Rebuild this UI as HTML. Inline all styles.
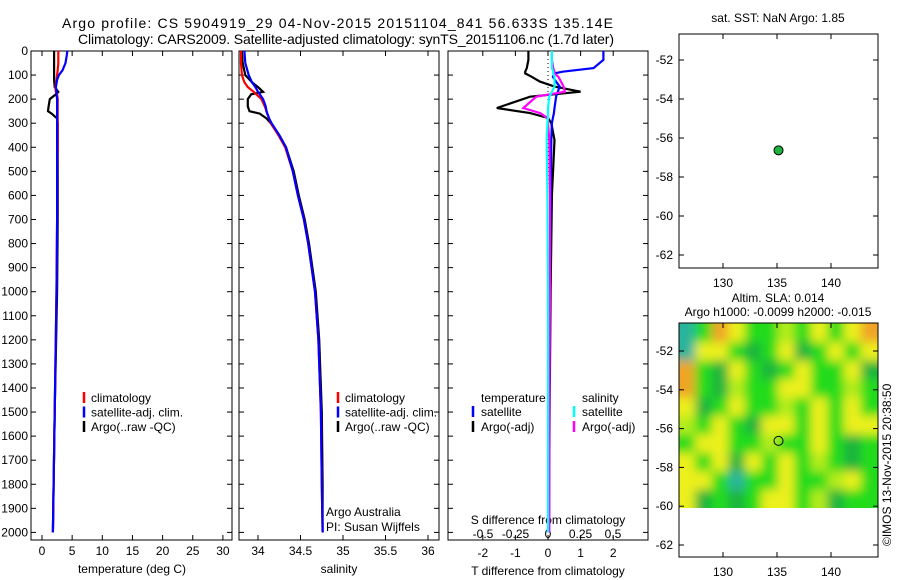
<!DOCTYPE html>
<html><head><meta charset="utf-8">
<style>
body{margin:0;background:#fff;}
svg{display:block;font-family:"Liberation Sans",Arial,sans-serif;}
text{font-size:12px;fill:#000;}
</style></head>
<body>
<svg id="chart" width="900" height="580" viewBox="0 0 900 580" xmlns="http://www.w3.org/2000/svg">
<defs>
<filter id="blur" x="-5%" y="-5%" width="110%" height="110%"><feGaussianBlur stdDeviation="5"/></filter>
<clipPath id="heatclip"><rect x="679" y="323" width="199" height="185"/></clipPath>
</defs>
<text x="62" y="28" style="font-size:14px" textLength="551" lengthAdjust="spacing">Argo profile: CS 5904919_29 04-Nov-2015 20151104_841 56.633S 135.14E</text>
<text x="78" y="44" style="font-size:14px" textLength="536" lengthAdjust="spacing">Climatology: CARS2009. Satellite-adjusted climatology: synTS_20151106.nc (1.7d later)</text>
<text x="778" y="22" text-anchor="middle">sat. SST: NaN Argo: 1.85</text>
<text x="778" y="302" text-anchor="middle">Altim. SLA: 0.014</text>
<text x="778" y="316" text-anchor="middle">Argo h1000: -0.0099 h2000: -0.015</text>
<text transform="translate(891,546) rotate(-90)">©IMOS 13-Nov-2015 20:38:50</text>
<g id="heat" clip-path="url(#heatclip)"><g id="heatinner" filter="url(#blur)"></g></g>
<g id="g"></g>
</svg>
<script>
// ---------- data ----------
const tDepths = [0,20,50,80,100,120,150,170,180,200,230,250,260,280,300,400,500,700,1000,1500,2000];
const argoT  = [2.0,2.0,2.0,2.0,2.0,2.0,2.1,2.7,2.3,1.3,1.1,1.0,1.6,2.5,2.6,2.6,2.6,2.6,2.5,2.1,1.8];
const climT  = [2.7,2.7,2.7,2.6,2.5,2.4,2.2,2.3,2.5,2.6,2.6,2.6,2.6,2.6,2.6,2.6,2.5,2.5,2.4,2.1,1.8];
const satT   = [4.2,4.1,3.9,3.4,2.8,2.5,2.3,2.4,2.4,2.5,2.5,2.5,2.5,2.5,2.5,2.5,2.5,2.5,2.4,2.1,1.8];
const sDepths = [0,50,100,130,150,170,180,200,230,250,260,280,300,350,400,500,600,700,800,900,1000,1200,1500,1800,2000];
const argoS = [33.81,33.82,33.85,33.93,34.0,34.06,33.92,33.88,33.88,33.9,34.02,34.1,34.15,34.25,34.33,34.42,34.48,34.55,34.6,34.64,34.68,34.72,34.75,34.76,34.76];
const climS = [33.80,33.80,33.81,33.84,33.88,33.95,33.98,34.04,34.08,34.1,34.11,34.13,34.15,34.24,34.32,34.41,34.47,34.54,34.59,34.63,34.67,34.71,34.74,34.75,34.76];
const satS  = [33.84,33.85,33.89,33.93,33.97,34.0,34.02,34.06,34.09,34.1,34.11,34.13,34.16,34.25,34.33,34.41,34.47,34.54,34.59,34.63,34.67,34.71,34.74,34.75,34.76];
const dDepths = [0,37,71,86,93,107,127,148,169,190,237,258,278,300,370,600,1000,1500,2000];
const argoTdiff = [-0.6,-0.6,-0.65,-0.7,-0.7,-0.5,-0.25,0.2,1.0,-0.55,-1.57,-0.55,0.0,0.1,0.2,0.12,0.08,0.05,0.03];
const satTdiff  = [1.7,1.7,1.4,0.45,0.2,0.15,0.25,0.36,0.3,0.25,0.2,0.18,0.15,0.12,0.1,0.08,0.05,0.03,0.02];
const argoSdiff = [0.03,0.03,0.04,0.05,0.05,0.08,0.1,0.12,0.13,-0.09,-0.19,-0.06,-0.005,0.0,0.01,0.015,0.015,0.01,0.01];
const satSdiff  = [0.03,0.03,0.03,0.04,0.04,0.05,0.05,0.05,0.03,0.01,0.0,0.0,0.0,-0.005,-0.01,-0.005,0.0,0.0,0.0];
const depthTicks = [0,100,200,300,400,500,600,700,800,900,1000,1100,1200,1300,1400,1500,1600,1700,1800,1900,2000];
const tempTicks = [0,5,10,15,20,25,30];
const salTicks = [34,34.5,35,35.5,36];
const salTickLabels = ["34","34.5","35","35.5","36"];
const tdTicks = [-2,-1,0,1,2];
const sdTicks = [-0.5,-0.25,0,0.25,0.5];
const lonTicks = [130,135,140];
const latTicks = [-52,-54,-56,-58,-60,-62];
const argoLon = [135.14];
const argoLat = [-56.633];
const heatLonStart = [125.9];
const heatLonStep = [1.53];
const heatLatStart = [-50.6];
const heatLatStep = [-0.95];
const heatValues = [
 [0,2,5,4,2,2,3,2,4,2,4,5],
 [0,4,4,2,1,2,4,1,2,4,2,4],
 [5,2,1,4,2,1,2,4,2,2,4,1],
 [5,2,1,3,2,2,4,4,2,2,3,2],
 [4,1,2,4,2,2,3,2,4,2,4,2],
 [3,2,4,2,1,4,4,2,4,2,4,4],
 [2,4,4,2,2,3,2,2,4,2,1,2],
 [4,2,4,1,4,2,4,2,3,2,1,2],
 [4,4,2,0,2,2,4,2,2,3,4,2],
 [4,1,2,1,2,4,4,2,3,1,2,2]];
const heatColors = ["#2cb49c","#1cb43c","#22dc1c","#b4ec1c","#ecf01c","#f0a428"];

// ---------- scales ----------
const NS="http://www.w3.org/2000/svg";
const root=document.getElementById('g');
const heatRoot=document.getElementById('heatinner');
function el(tag,attrs,parent){const e=document.createElementNS(NS,tag);for(const k in attrs)e.setAttribute(k,attrs[k]);(parent||root).appendChild(e);return e;}
const yD = d => 51 + d*0.2407;
const xT = t => 42 + t*6.03;
const xS = s => 258 + (s-34)*85;
const xTd = v => 548 + v*32.6;
const xSd = v => 548 + v*130;
const xLon = l => 777 + (l-135)*10.8;
const yLatTop = l => 60 + (-52-l)*19.5;
const yLatBot = l => 351 + (-52-l)*19.4;

function txt(x,y,s,anchor,name){const t=el('text',{x:x,y:y,'text-anchor':anchor||'start'});t.textContent=s;return t;}
function line(x1,y1,x2,y2,name,color,w){const l=el('line',{x1:x1,y1:y1,x2:x2,y2:y2,stroke:color||'#000','stroke-width':w||1});return l;}
function poly(depths,vals,xf,color,name){const pts=depths.map((d,i)=>xf(vals[i]).toFixed(1)+','+yD(d).toFixed(1)).join(' ');const p=el('polyline',{points:pts,fill:'none',stroke:color,'stroke-width':2.2});return p;}
function box(x0,y0,x1,y1,name){const r=el('rect',{x:x0,y:y0,width:x1-x0,height:y1-y0,fill:'none',stroke:'#000','stroke-width':1});}
function depthTicksFor(x0,x1,labels){depthTicks.forEach(d=>{const y=yD(d);line(x0,y,x0+5,y,'y-tick');line(x1-5,y,x1,y,'y-tick');if(labels)txt(28,y+4,String(d),'end','y-tick-label');});}
function xTicks(vals,f,x0,y0,y1,labels,ly,name){vals.forEach((v,i)=>{const x=f(v);line(x,y0,x,y0+5,'x-tick');line(x,y1-5,x,y1,'x-tick');if(labels)txt(x,ly,labels[i],'middle',name);});}

// ---------- panel 1 temperature ----------
box(31,51,232,540,'temperature-panel-frame');
depthTicksFor(31,232,true);
xTicks(tempTicks,xT,31,51,540,tempTicks.map(String),555,'temperature-tick-label');
txt(132,573,'temperature (deg C)','middle','temperature-axis-title');
poly(tDepths,argoT,xT,'#000','argo-temperature-line');
poly(tDepths,climT,xT,'#f00','clim-temperature-line');
poly(tDepths,satT,xT,'#00f','sat-temperature-line');

// ---------- panel 2 salinity ----------
box(239,51,439,540,'salinity-panel-frame');
depthTicksFor(239,439,false);
xTicks(salTicks,xS,239,51,540,salTickLabels,555,'salinity-tick-label');
txt(339,573,'salinity','middle','salinity-axis-title');
poly(sDepths,argoS,xS,'#000','argo-salinity-line');
poly(sDepths,climS,xS,'#f00','clim-salinity-line');
poly(sDepths,satS,xS,'#00f','sat-salinity-line');
txt(326,516,'Argo Australia','start','credit-argo-australia');
txt(326,531,'PI: Susan Wijffels','start','credit-pi');

// legends 1 & 2
[[84,91],[338,345]].forEach(([mx,tx],k)=>{
 const items=[['#f00','climatology'],['#00f','satellite-adj. clim.'],['#000','Argo(..raw -QC)']];
 items.forEach((it,i)=>{const y=402+i*14.5;line(mx,y-10,mx,y+1,'legend-marker',it[0],2.5);txt(tx,y,it[1],'start','legend-entry');});
});

// ---------- panel 3 differences ----------
box(448,51,648,540,'difference-panel-frame');
depthTicksFor(448,648,false);
xTicks(tdTicks,xTd,448,51,540,tdTicks.map(String),557,'tdiff-tick-label');
sdTicks.forEach(v=>txt(xSd(v),538,String(v),'middle','sdiff-tick-label'));
txt(548,524,'S difference from climatology','middle','sdiff-axis-title');
txt(548,575,'T difference from climatology','middle','tdiff-axis-title');
const z=el('line',{x1:xTd(0),y1:51,x2:xTd(0),y2:540,stroke:'#000','stroke-width':1,'stroke-dasharray':'1,3'});


poly(dDepths,argoTdiff,xTd,'#000','argo-tdiff-line');
poly(dDepths,satTdiff,xTd,'#00f','sat-tdiff-line');
poly(dDepths,argoSdiff,xSd,'#f0f','argo-sdiff-line');
poly(dDepths,satSdiff,xSd,'#0ff','sat-sdiff-line');
txt(481,402,'temperature','start','legend-header-temperature');
txt(582,402,'salinity','start','legend-header-salinity');
[[473,481,'#00f','satellite',416],[473,481,'#000','Argo(-adj)',431],[574,582,'#0ff','satellite',416],[574,582,'#f0f','Argo(-adj)',431]].forEach(a=>{line(a[0],a[4]-10,a[0],a[4]+1,'legend-marker',a[2],2.5);txt(a[1],a[4],a[3],'start','legend-entry');});

// ---------- map panels ----------
function mapAxes(y0,y1,yf){
 lonTicks.forEach(l=>{const x=xLon(l);line(x,y0,x,y0+5,'lon-tick');line(x,y1-5,x,y1,'lon-tick');});
 latTicks.forEach(l=>{const y=yf(l);if(y<y0||y>y1)return;line(679,y,684,y,'lat-tick');line(873,y,878,y,'lat-tick');txt(673,y+4,String(l),'end','lat-tick-label');});
}
// heatmap (cells drawn slightly oversized at edges so the blur does not fade to white)
heatValues.forEach((row,r)=>row.forEach((v,c)=>{
 const lon0=heatLonStart[0]+c*heatLonStep[0], lat0=heatLatStart[0]+r*heatLatStep[0];
 let x0=xLon(lon0), x1=xLon(lon0+heatLonStep[0]);
 let y0=yLatBot(lat0), y1=yLatBot(lat0+heatLatStep[0]);
 if(c===0)x0-=12; if(c===row.length-1)x1+=12; if(r===0)y0-=12; if(r===heatValues.length-1)y1+=12;
 const rc=el('rect',{x:x0,y:y0,width:x1-x0+0.5,height:y1-y0+0.5,fill:heatColors[v]},heatRoot);
 
 
}));
box(679,34,878,268,'sst-map-frame');
mapAxes(34,268,yLatTop);
box(679,323,878,557,'sla-map-frame');
mapAxes(323,557,yLatBot);
lonTicks.forEach(l=>{txt(xLon(l),576,String(l),'middle','lon-tick-label');txt(xLon(l),287,String(l),'middle','lon-tick-label');});
const d1=el('circle',{cx:xLon(argoLon[0]),cy:yLatTop(argoLat[0]),r:4.5,fill:'#1cb43c',stroke:'#000','stroke-width':1});


const d2=el('circle',{cx:xLon(argoLon[0]),cy:yLatBot(argoLat[0]),r:4.5,fill:'none',stroke:'#000','stroke-width':1});


</script>
</body></html>
